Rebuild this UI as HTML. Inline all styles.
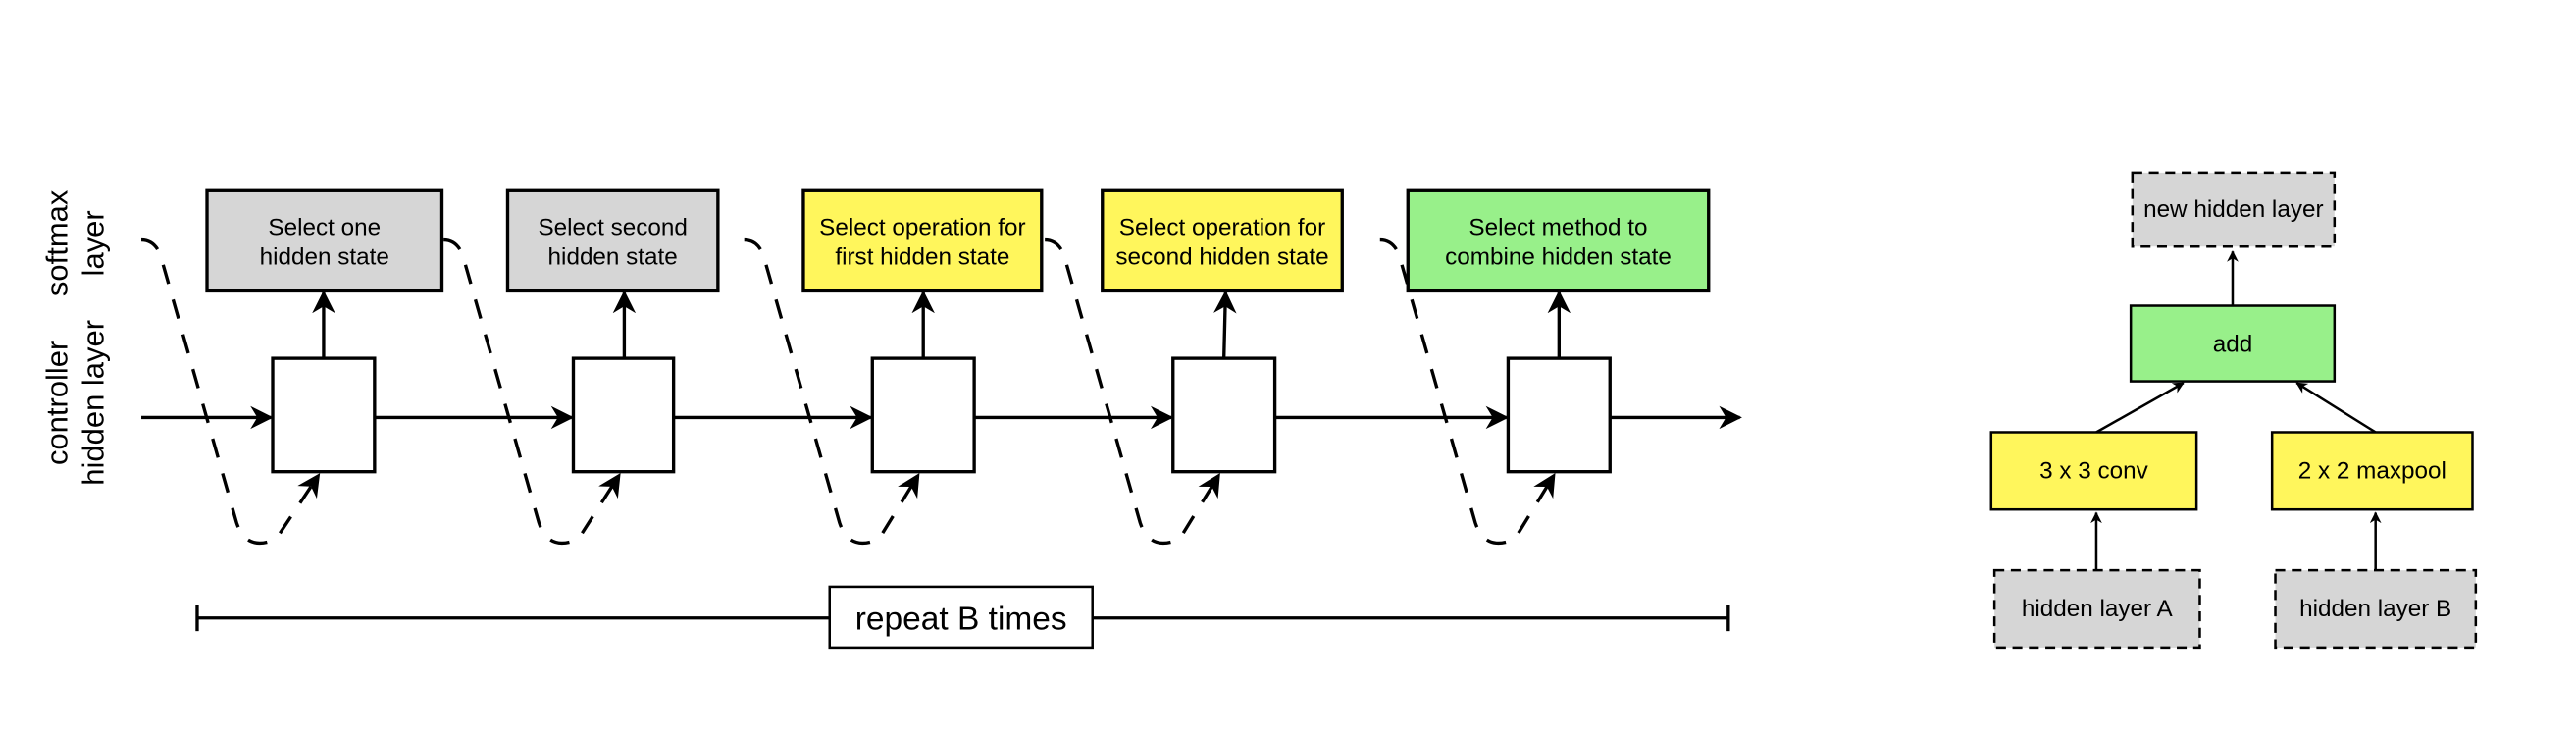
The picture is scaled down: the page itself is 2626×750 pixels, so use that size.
<!DOCTYPE html>
<html><head><meta charset="utf-8"><style>
html,body{margin:0;padding:0;background:#fff;}
svg{display:block;}
text{font-family:"Liberation Sans",sans-serif;fill:#000;}
</style></head><body>
<svg width="2626" height="750" viewBox="0 0 1568 447.8" preserveAspectRatio="none" xmlns="http://www.w3.org/2000/svg">
<defs>
<marker id="a" viewBox="0 0 10 10" refX="9" refY="5" markerWidth="7" markerHeight="7" orient="auto" markerUnits="userSpaceOnUse">
<path d="M0,0 L10,5 L0,10 L3,5 z" fill="#000"/></marker>
<marker id="b" viewBox="0 0 10 10" refX="9" refY="5" markerWidth="14" markerHeight="14" orient="auto" markerUnits="userSpaceOnUse">
<path d="M0,0 L10,5 L0,10 L3,5 z" fill="#000"/></marker>
</defs>
<text transform="translate(41,148) rotate(-90)" font-size="18.5" text-anchor="middle">softmax</text>
<text transform="translate(63,148) rotate(-90)" font-size="18.5" text-anchor="middle">layer</text>
<text transform="translate(41,245) rotate(-90)" font-size="18.5" text-anchor="middle">controller</text>
<text transform="translate(63,245) rotate(-90)" font-size="18.5" text-anchor="middle">hidden layer</text>

<g stroke="#000" stroke-width="2">
<rect x="126" y="116" width="143" height="61" fill="#d6d6d6"/>
<rect x="309" y="116" width="128" height="61" fill="#d6d6d6"/>
<rect x="489" y="116" width="145" height="61" fill="#fff65c"/>
<rect x="671" y="116" width="146" height="61" fill="#fff65c"/>
<rect x="857" y="116" width="183" height="61" fill="#98f08a"/>
</g>
<g font-size="14.5" text-anchor="middle">
<text x="197.5" y="143">Select one</text><text x="197.5" y="161">hidden state</text>
<text x="373" y="143">Select second</text><text x="373" y="161">hidden state</text>
<text x="561.5" y="143">Select operation for</text><text x="561.5" y="161">first hidden state</text>
<text x="744" y="143">Select operation for</text><text x="744" y="161">second hidden state</text>
<text x="948.5" y="143">Select method to</text><text x="948.5" y="161">combine hidden state</text>
</g>

<g stroke="#000" stroke-width="2" fill="none">
<line x1="86" y1="254" x2="165" y2="254" marker-end="url(#b)"/>
<line x1="228" y1="254" x2="348" y2="254" marker-end="url(#b)"/>
<line x1="410" y1="254" x2="530" y2="254" marker-end="url(#b)"/>
<line x1="593" y1="254" x2="713" y2="254" marker-end="url(#b)"/>
<line x1="776" y1="254" x2="917" y2="254" marker-end="url(#b)"/>
<line x1="980" y1="254" x2="1059" y2="254" marker-end="url(#b)"/>
<line x1="197" y1="218" x2="197" y2="178" marker-end="url(#b)"/>
<line x1="380" y1="218" x2="380" y2="178" marker-end="url(#b)"/>
<line x1="562" y1="218" x2="562" y2="178" marker-end="url(#b)"/>
<line x1="745" y1="218" x2="746" y2="178" marker-end="url(#b)"/>
<line x1="949" y1="218" x2="949" y2="178" marker-end="url(#b)"/>
</g>
<g stroke="#000" stroke-width="2" fill="#fff">
<rect x="166" y="218" width="62" height="69"/>
<rect x="349" y="218" width="61" height="69"/>
<rect x="531" y="218" width="62" height="69"/>
<rect x="714" y="218" width="62" height="69"/>
<rect x="918" y="218" width="62" height="69"/>
</g>
<g stroke="#000" stroke-width="2" fill="none" stroke-dasharray="12,10">
<path d="M86,146 Q96,146 99,160 L144,318 Q150,336 168,328 L194,289" marker-end="url(#b)"/>
<path d="M270,146 Q280,146 283,160 L328,318 Q334,336 352,328 L377,289" marker-end="url(#b)"/>
<path d="M453,146 Q463,146 466,160 L511,318 Q517,336 535,328 L559,289" marker-end="url(#b)"/>
<path d="M636,146 Q646,146 649,160 L694,318 Q700,336 718,328 L742,289" marker-end="url(#b)"/>
<path d="M840,146 Q850,146 853,160 L898,318 Q904,336 922,328 L946,289" marker-end="url(#b)"/>
</g>

<g stroke="#000" stroke-width="2">
<line x1="120" y1="376" x2="1052" y2="376"/>
<line x1="120" y1="368" x2="120" y2="384"/>
<line x1="1052" y1="368" x2="1052" y2="384"/>
<rect x="505" y="357" width="160" height="37" fill="#fff" stroke-width="1.5"/>
</g>
<text x="585" y="383" font-size="20" text-anchor="middle">repeat B times</text>

<g stroke="#000" stroke-width="1.5">
<rect x="1298" y="105" width="123" height="45" fill="#d6d6d6" stroke-dasharray="6,4"/>
<rect x="1297" y="186" width="124" height="46" fill="#98f08a"/>
<rect x="1212" y="263" width="125" height="47" fill="#fff65c"/>
<rect x="1383" y="263" width="122" height="47" fill="#fff65c"/>
<rect x="1214" y="347" width="125" height="47" fill="#d6d6d6" stroke-dasharray="6,4"/>
<rect x="1385" y="347" width="122" height="47" fill="#d6d6d6" stroke-dasharray="6,4"/>
</g>
<g stroke="#000" stroke-width="1.5" fill="none">
<line x1="1359" y1="186" x2="1359" y2="153" marker-end="url(#a)"/>
<line x1="1276" y1="263" x2="1329" y2="233" marker-end="url(#a)"/>
<line x1="1446" y1="263" x2="1398" y2="233" marker-end="url(#a)"/>
<line x1="1276" y1="347" x2="1276" y2="312" marker-end="url(#a)"/>
<line x1="1446" y1="347" x2="1446" y2="312" marker-end="url(#a)"/>
</g>
<g font-size="14.5" text-anchor="middle">
<text x="1359.5" y="132">new hidden layer</text>
<text x="1359" y="214">add</text>
<text x="1274.5" y="291">3 x 3 conv</text>
<text x="1444" y="291">2 x 2 maxpool</text>
<text x="1276.5" y="375">hidden layer A</text>
<text x="1446" y="375">hidden layer B</text>
</g>
</svg>
</body></html>
